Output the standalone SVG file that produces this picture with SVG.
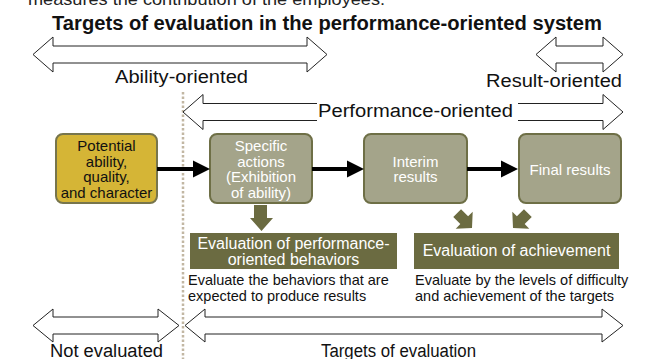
<svg xmlns="http://www.w3.org/2000/svg" width="656" height="359" viewBox="0 0 656 359">
<defs>
<style>
text{font-family:"Liberation Sans",Arial,sans-serif;}
.lbl{font-size:18px;fill:#111;}
.hollow{fill:#fff;stroke:#222;stroke-width:1;stroke-linejoin:miter;}
.bx{stroke-width:2;}
.gold{fill:#d5b536;stroke:#77754c;}
.gray{fill:#a4a48a;stroke:#6e6f46;}
.btxt{font-size:15px;text-anchor:middle;}
.wt{fill:#fff;}
.olive{fill:#6b6b41;}
.etxt{font-size:16px;fill:#fff;text-anchor:middle;}
.desc{font-size:14.5px;fill:#111;}
.conn{stroke:#000;stroke-width:4;fill:none;}
.head{fill:#000;}
</style>
<polygon id="fat" points="-5.5,-21 5.5,-21 5.5,-11 12,-11 0,0 -12,-11 -5.5,-11" fill="#6b6b41"/>
</defs>
<rect width="656" height="359" fill="#fff"/>

<text x="28" y="5" font-size="17" fill="#222" textLength="357" lengthAdjust="spacingAndGlyphs">measures the contribution of the employees.</text>
<text x="52" y="30" font-size="19.5" font-weight="bold" fill="#111" textLength="550" lengthAdjust="spacingAndGlyphs">Targets of evaluation in the performance-oriented system</text>

<g id="ability-oriented">
<polygon class="hollow" points="33,54.5 53,37 53,46 307,46 307,37 327,54.5 307,72 307,63 53,63 53,72"/>
<text class="lbl" x="115" y="83" textLength="133" lengthAdjust="spacingAndGlyphs">Ability-oriented</text>
</g>
<g id="result-oriented">
<polygon class="hollow" points="536,54.5 556,37 556,46 603,46 603,37 623,54.5 603,72 603,63 556,63 556,72"/>
<text class="lbl" x="486" y="87" textLength="136" lengthAdjust="spacingAndGlyphs">Result-oriented</text>
</g>

<line x1="183" y1="92" x2="183" y2="359" stroke="#c2b7a3" stroke-width="2.5" stroke-dasharray="2.5,2"/>

<g id="performance-oriented">
<polygon class="hollow" points="183,112 203,94.5 203,103.5 603,103.5 603,94.5 623,112 603,129.5 603,120.5 203,120.5 203,129.5"/>
<rect x="317" y="100" width="201" height="24" fill="#fff"/>
<text class="lbl" x="318" y="117" textLength="195" lengthAdjust="spacingAndGlyphs">Performance-oriented</text>
</g>

<g id="potential">
<rect class="bx gold" x="56" y="134" width="101" height="69" rx="7"/>
<text class="btxt" fill="#111"><tspan x="106.5" y="151">Potential</tspan><tspan x="106.5" y="166.5">ability,</tspan><tspan x="106.5" y="182">quality,</tspan><tspan x="106.5" y="197.5">and character</tspan></text>
</g>
<g id="specific-actions">
<rect class="bx gray" x="210" y="134" width="102" height="69" rx="7"/>
<text class="btxt wt"><tspan x="261" y="151">Specific</tspan><tspan x="261" y="166.5">actions</tspan><tspan x="261" y="182">(Exhibition</tspan><tspan x="261" y="197.5">of ability)</tspan></text>
</g>
<g id="interim-results">
<rect class="bx gray" x="364" y="134" width="103" height="69" rx="7"/>
<text class="btxt wt"><tspan x="415.5" y="166.5">Interim</tspan><tspan x="415.5" y="182">results</tspan></text>
</g>
<g id="final-results">
<rect class="bx gray" x="519" y="134" width="102" height="69" rx="7"/>
<text class="btxt wt" x="570" y="175">Final results</text>
</g>

<g id="eval-behaviors">
<rect class="olive" x="190" y="233" width="207" height="36"/>
<text class="etxt"><tspan x="293.5" y="249">Evaluation of performance-</tspan><tspan x="293.5" y="265">oriented behaviors</tspan></text>
<text class="desc"><tspan x="188" y="285">Evaluate the behaviors that are</tspan><tspan x="188" y="301">expected to produce results</tspan></text>
</g>
<g id="eval-achievement">
<rect class="olive" x="414" y="233" width="205" height="36"/>
<text class="etxt" x="516.5" y="256">Evaluation of achievement</text>
<text class="desc"><tspan x="415" y="285">Evaluate by the levels of difficulty</tspan><tspan x="415" y="301">and achievement of the targets</tspan></text>
</g>

<g id="connectors">
<line class="conn" x1="157" y1="169" x2="195" y2="169"/>
<polygon class="head" points="193,160.5 210,169 193,177.5"/>
<line class="conn" x1="312" y1="169" x2="349" y2="169"/>
<polygon class="head" points="347,160.5 364,169 347,177.5"/>
<line class="conn" x1="467" y1="169" x2="502" y2="169"/>
<polygon class="head" points="501,160.5 518,169 501,177.5"/>
<polygon fill="#6b6b41" points="254,205 267,205 267,218 273,218 261.5,231 250,218 254,218"/>
<use href="#fat" transform="translate(472,228) rotate(-45)"/>
<use href="#fat" transform="translate(513,228) rotate(45)"/>
</g>

<g id="not-evaluated">
<polygon class="hollow" points="33,325.5 53,309 53,317 158,317 158,309 179,325.5 158,342 158,334 53,334 53,342"/>
<text class="lbl" x="50" y="357" textLength="113" lengthAdjust="spacingAndGlyphs">Not evaluated</text>
</g>
<g id="targets-of-evaluation">
<polygon class="hollow" points="185,325.5 205,309 205,317 602,317 602,309 623,325.5 602,342 602,334 205,334 205,342"/>
<text class="lbl" x="321" y="357" textLength="155" lengthAdjust="spacingAndGlyphs">Targets of evaluation</text>
</g>
</svg>
